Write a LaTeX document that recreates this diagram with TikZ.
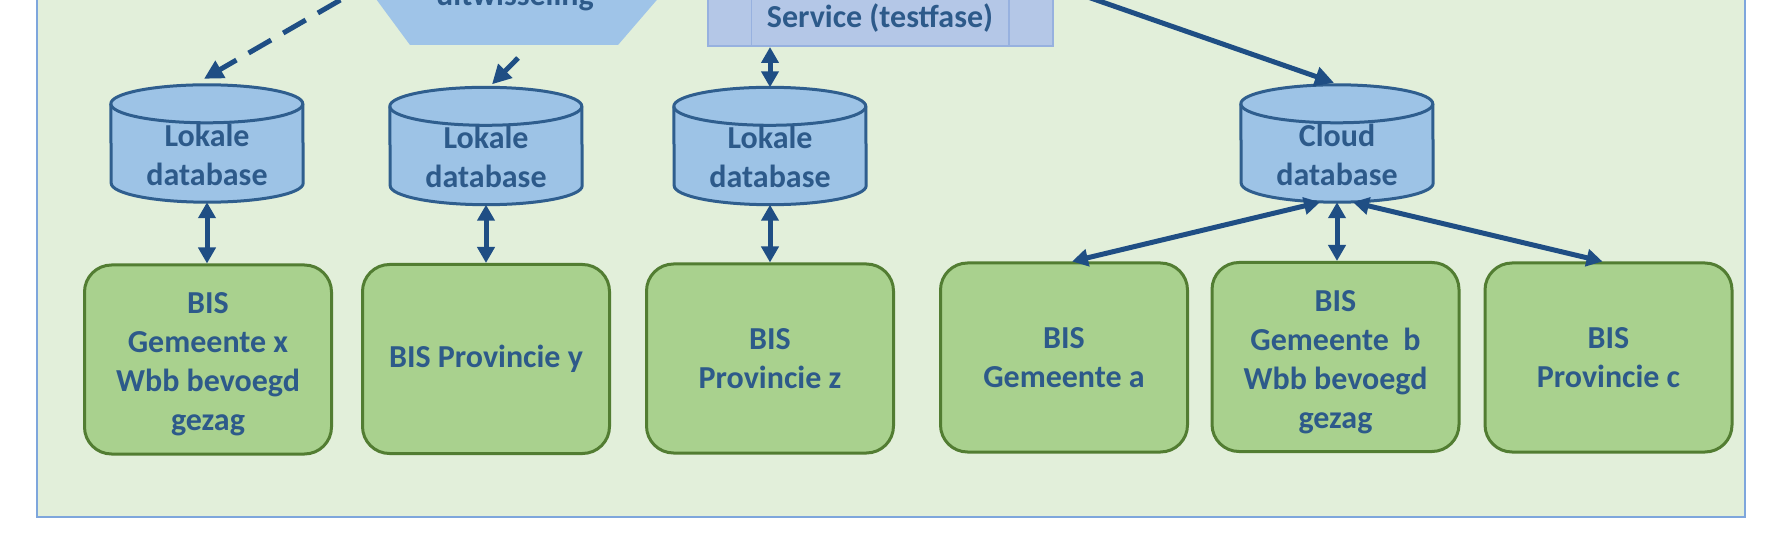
\documentclass[tikz,border=0pt]{standalone}
\usepackage{fontspec}
\setmainfont{Carlito}
\usetikzlibrary{arrows.meta,calc}
\definecolor{bgreen}{HTML}{E2EFDA}
\definecolor{frameblue}{HTML}{7EA6DC}
\definecolor{boxgreen}{HTML}{A9D18E}
\definecolor{boxedge}{HTML}{527D32}
\definecolor{dbblue}{HTML}{9DC3E6}
\definecolor{dbedge}{HTML}{2F5E8E}
\definecolor{hexblue}{HTML}{9FC4E8}
\definecolor{svcfill}{HTML}{B4C7E7}
\definecolor{svcedge}{HTML}{97B1DF}
\definecolor{arrowblue}{HTML}{1F4E84}
\definecolor{txtblue}{HTML}{2D5A8A}
\newcommand\dbcylinder[1]{%
  \filldraw[dbline, fill=dbblue] ($(#1.north west)+(0,-19)$) arc[start angle=180,end angle=0,x radius=96pt,y radius=19pt] -- ($(#1.south east)+(0,19)$) arc[start angle=0,end angle=-180,x radius=96pt,y radius=19pt] -- cycle;
  \draw[dbline] ($(#1.north west)+(0,-19)$) arc[start angle=180,end angle=360,x radius=96pt,y radius=19pt];
}
\begin{document}
\begin{tikzpicture}[x=1pt,y=1pt,
  txt/.style={font=\fontsize{32}{39}\selectfont\bfseries, text=txtblue, align=center},
  bisbox/.style={txt, draw=boxedge, fill=boxgreen, line width=3pt, rounded corners=27pt, minimum width=247pt, minimum height=189pt, inner sep=0pt},
  dbshape/.style={minimum width=192pt, minimum height=117pt, inner sep=0pt},
  dbline/.style={draw=dbedge, line width=3pt},
  conn/.style={draw=arrowblue, line width=5pt},
  tipS/.style={-{Triangle[length=19pt,width=19pt]}},
  tipD/.style={{Triangle[length=16pt,width=17pt]}-{Triangle[length=16pt,width=17pt]}},
  svcline/.style={draw=svcedge, line width=1.5pt},
]
\useasboundingbox (0,0) rectangle (1774,533);
\clip (0,0) rectangle (1774,533);
\fill[white] (0,0) rectangle (1774,533);
\draw[draw=frameblue, fill=bgreen, line width=2.5pt] (37,16) rectangle (1745,560);

% hexagon (data exchange)
\fill[hexblue] (410,488) -- (618,488) -- (674,553) -- (362,553) -- cycle;
\node[txt, anchor=base] (hex) at (515,527) {uitwisseling};

% service box
\node[svcline, fill=svcfill, minimum width=345pt, minimum height=90pt, anchor=south, inner sep=0pt] (svc) at (880.5,486) {};
\draw[svcline] ([xshift=44pt]svc.south west) -- ([xshift=44pt]svc.north west);
\draw[svcline] ([xshift=-45pt]svc.south east) -- ([xshift=-45pt]svc.north east);
\node[txt, anchor=base] (svct) at (880,505) {Service (testfase)};

% databases
\node[dbshape] (db1) at (207,389.5) {};
\dbcylinder{db1}
\node[txt] (db1t) at ($(db1.center)+(0,-11)$) {Lokale\\database};
\node[dbshape] (db2) at (486,387) {};
\dbcylinder{db2}
\node[txt] (db2t) at ($(db2.center)+(0,-11)$) {Lokale\\database};
\node[dbshape] (db3) at (770,387) {};
\dbcylinder{db3}
\node[txt] (db3t) at ($(db3.center)+(0,-11)$) {Lokale\\database};
\node[dbshape] (cloud) at (1337,389.5) {};
\dbcylinder{cloud}
\node[txt] (cloudt) at ($(cloud.center)+(0,-11)$) {Cloud\\database};

% BIS boxes
\node[bisbox] (b1) at (208,173.5) {};
\node[txt] (b1t) at ($(b1.center)+(0,-5)$) {BIS\\Gemeente x\\Wbb bevoegd\\gezag};
\node[bisbox] (b2) at (486,174) {BIS Provincie y};
\node[bisbox] (b3) at (770,174.5) {BIS\\Provincie z};
\node[bisbox] (b4) at (1064,175.5) {BIS\\Gemeente a};
\node[bisbox] (b5) at (1335.5,176) {};
\node[txt] (b5t) at ($(b5.center)+(0,-5)$) {BIS\\Gemeente\ \ b\\Wbb bevoegd\\gezag};
\node[bisbox] (b6) at (1608.5,175.5) {BIS\\Provincie c};

% connectors
\coordinate (d1s) at (375,553);
\draw[conn, tipS, dash pattern=on 26pt off 14pt] (d1s) -- ([xshift=-3pt,yshift=6pt]db1.north);
\coordinate (d2s) at (518,475);
\draw[conn, tipS] (d2s) -- ([xshift=6pt,yshift=3pt]db2.north);
\draw[conn, tipD] (db3.north) -- (db3.north |- svc.south);
\coordinate (c4s) at (1039,553);
\draw[conn, tipS] (c4s) -- ([xshift=-3pt,yshift=2pt]cloud.north);

\draw[conn, tipD] (db1.south) -- (db1.south |- b1.north);
\draw[conn, tipD] (db2.south) -- (db2.south |- b2.north);
\draw[conn, tipD] (db3.south) -- (db3.south |- b3.north);
\draw[conn, tipD] ([xshift=-17pt]cloud.south) -- ([xshift=8pt]b4.north);
\draw[conn, tipD] (cloud.south) -- (cloud.south |- b5.north);
\draw[conn, tipD] ([xshift=16pt]cloud.south) -- ([xshift=-6pt]b6.north);
\end{tikzpicture}
\end{document}
